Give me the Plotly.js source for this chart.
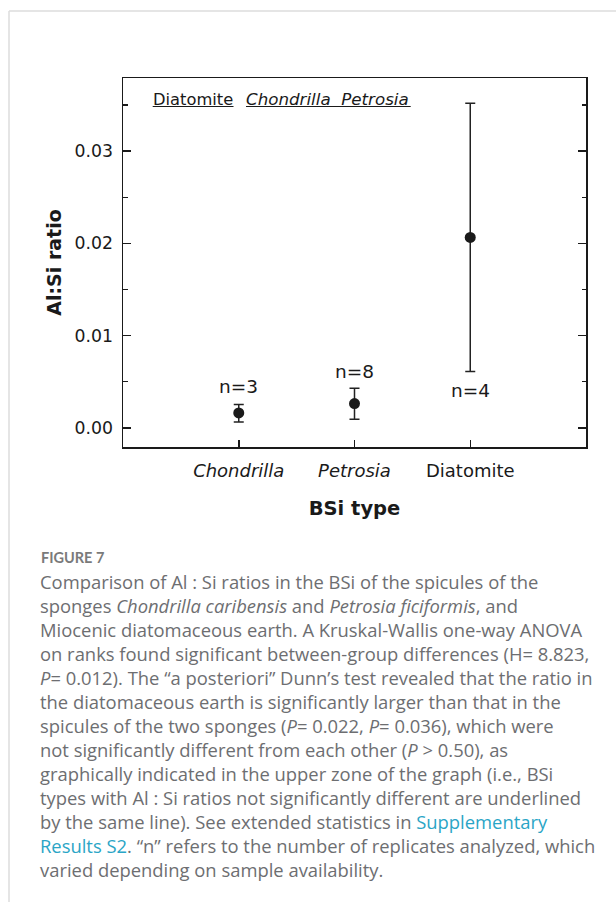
<!DOCTYPE html>
<html>
<head>
<meta charset="utf-8">
<script src="https://cdn.plot.ly/plotly-3.0.1.min.js"></script>
<style>
html,body{margin:0;padding:0;background:#fff;}
#chart{width:616px;height:902px;}
</style>
</head>
<body>
<div id="chart"></div>
<script>
// ---- data ----
const categories = ['Chondrilla', 'Petrosia', 'Diatomite'];
const tickLabels = ['<i>Chondrilla</i>', '<i>Petrosia</i>', 'Diatomite'];
const meanRatio = [0.00163, 0.00264, 0.02065];
const upperBound = [0.00254, 0.00431, 0.03518];
const lowerBound = [0.00065, 0.00094, 0.00612];
const nLabels = ['n=3', 'n=8', 'n=4'];
const yTickVals = [0, 0.01, 0.02, 0.03];

// ---- layout helpers (pixel -> paper) ----
const W = 616, H = 902;
const L = 123, R = 30, T = 78, B = 455;
const PW = W - L - R, PH = H - T - B;
const px = x => (x - L) / PW;
const py = y => (H - B - y) / PH;

const errPlus = meanRatio.map((m, i) => upperBound[i] - m);
const errMinus = meanRatio.map((m, i) => m - lowerBound[i]);

const FAM = 'DejaVu Sans, sans-serif';
const INK = '#1a1a1a';

const trace = {
  type: 'scatter',
  mode: 'markers',
  x: categories,
  y: meanRatio,
  marker: {size: 11, color: INK},
  error_y: {type: 'data', symmetric: false, array: errPlus, arrayminus: errMinus,
            color: '#222', thickness: 1.5, width: 5},
  hoverinfo: 'x+y',
  showlegend: false
};

const axisFont = {family: FAM, size: 17, color: INK};
const nLabelY = [386.5, 371.5, 390];

const annotations = [];
nLabels.forEach((t, i) => {
  annotations.push({xref: 'x', yref: 'paper', x: categories[i], y: py(nLabelY[i]),
    text: t, showarrow: false, xanchor: 'center', yanchor: 'middle',
    font: {family: FAM, size: 18.5, color: INK}});
});
annotations.push({xref: 'paper', yref: 'paper', x: px(150.5), y: py(99), text: 'Diatomite',
  showarrow: false, xanchor: 'left', yanchor: 'middle', font: {family: FAM, size: 16.3, color: INK}});
annotations.push({xref: 'paper', yref: 'paper', x: px(244), y: py(99), text: '<i>Chondrilla&nbsp;&nbsp;Petrosia</i>',
  showarrow: false, xanchor: 'left', yanchor: 'middle', font: {family: FAM, size: 16.7, color: INK}});

// caption
const capFont = {family: 'Open Sans, sans-serif', size: 18.4, color: '#6d6e71'};
const link = s => '<span style="color:#2aa5c6">' + s + '</span>';
const captionLines = [
  'Comparison of Al : Si ratios in the BSi of the spicules of the',
  'sponges <i>Chondrilla caribensis</i> and <i>Petrosia ficiformis</i>, and',
  'Miocenic diatomaceous earth. A Kruskal-Wallis one-way ANOVA',
  'on ranks found significant between-group differences (H= 8.823,',
  '<i>P</i>= 0.012). The \u201ca posteriori\u201d Dunn\u2019s test revealed that the ratio in',
  'the diatomaceous earth is significantly larger than that in the',
  'spicules of the two sponges (<i>P</i>= 0.022, <i>P</i>= 0.036), which were',
  'not significantly different from each other (<i>P</i> &gt; 0.50), as',
  'graphically indicated in the upper zone of the graph (i.e., BSi',
  'types with Al : Si ratios not significantly different are underlined',
  'by the same line). See extended statistics in ' + link('Supplementary'),
  link('Results S2') + '. \u201cn\u201d refers to the number of replicates analyzed, which',
  'varied depending on sample availability.'
];
annotations.push({xref: 'paper', yref: 'paper', x: px(39), y: py(557.5), text: '<b>FIGURE 7</b>',
  showarrow: false, xanchor: 'left', yanchor: 'middle',
  font: {family: 'Lato, Open Sans, sans-serif', size: 14.5, color: '#7a7a7a'}});
captionLines.forEach((t, i) => {
  annotations.push({xref: 'paper', yref: 'paper', x: px(38), y: py(581.5 + i * 24), text: t,
    showarrow: false, xanchor: 'left', yanchor: 'middle', font: capFont});
});

const shapes = [
  // significance underlines
  {type: 'line', xref: 'paper', yref: 'paper', x0: px(152.7), x1: px(233.5), y0: py(106.5), y1: py(106.5),
   line: {color: INK, width: 1.2}},
  {type: 'line', xref: 'paper', yref: 'paper', x0: px(246), x1: px(410.7), y0: py(106.5), y1: py(106.5),
   line: {color: INK, width: 1.2}},
  // page frame
  {type: 'line', xref: 'paper', yref: 'paper', x0: px(9), x1: px(616), y0: py(11), y1: py(11),
   line: {color: '#dcdcdc', width: 1.5}},
  {type: 'line', xref: 'paper', yref: 'paper', x0: px(9), x1: px(9), y0: py(11), y1: py(902),
   line: {color: '#dcdcdc', width: 1.5}}
];

const layout = {
  width: W, height: H,
  margin: {l: L, r: R, t: T, b: B, pad: 0},
  paper_bgcolor: '#fff', plot_bgcolor: '#fff',
  font: axisFont,
  xaxis: {
    type: 'category', range: [-1, 3],
    tickvals: categories, ticktext: tickLabels,
    showline: true, linecolor: INK, linewidth: 1.5, mirror: true,
    ticks: 'inside', ticklen: 7, tickwidth: 1.5, tickcolor: INK,
    showgrid: false, zeroline: false, ticklabelstandoff: 7,
    tickfont: {family: FAM, size: 18, color: INK},
    title: {text: '<b>BSi type</b>', standoff: 21,
            font: {family: FAM, size: 19.5, color: INK}}
  },
  yaxis: {
    range: [-0.00206, 0.03792],
    tickvals: yTickVals, tickformat: '.2f',
    showline: true, linecolor: INK, linewidth: 1.5, mirror: 'ticks',
    ticks: 'inside', ticklen: 8, tickwidth: 1.5, tickcolor: INK,
    minor: {dtick: 0.005, tick0: 0, ticks: 'inside', ticklen: 4.5, tickwidth: 1.3, tickcolor: INK, showgrid: false},
    showgrid: false, zeroline: false, ticklabelstandoff: 5,
    tickfont: {family: FAM, size: 17.3, color: INK},
    title: {text: '<b>Al:Si ratio</b>', standoff: 8,
            font: {family: FAM, size: 19, color: INK}}
  },
  annotations: annotations,
  shapes: shapes
};

Plotly.newPlot('chart', [trace], layout, {displayModeBar: false, staticPlot: true});
</script>
</body>
</html>
